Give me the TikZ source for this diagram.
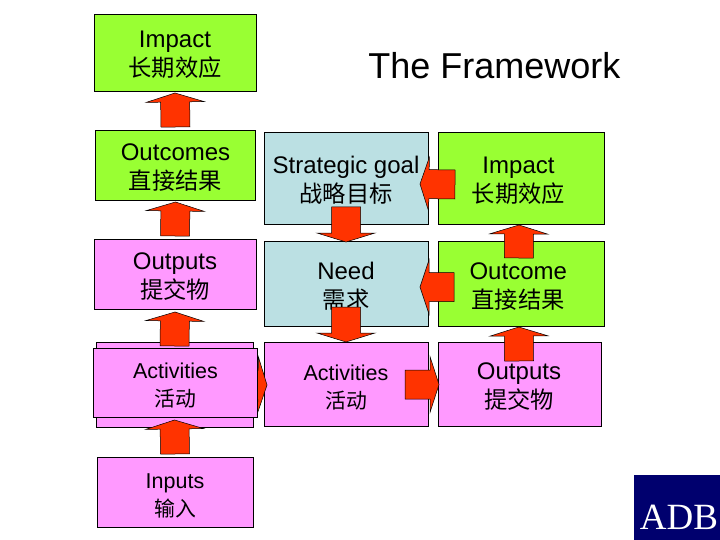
\documentclass[tikz,border=0pt]{standalone}
\usepackage{fontspec}
\setmainfont{Liberation Sans}
\newfontfamily\cjk[Scale=0.97]{Noto Sans CJK SC}
\newfontfamily\logofont{Liberation Serif}
\usetikzlibrary{calc}

\definecolor{goalgreen}{RGB}{153,255,51}
\definecolor{workpink}{RGB}{255,153,255}
\definecolor{needblue}{RGB}{187,224,227}
\definecolor{arrowred}{RGB}{255,51,0}
\definecolor{logoblue}{RGB}{0,0,110}

% two lines of a box, the strut moves them down a little
% the optional space pushes them to the left
\newcommand{\duo}[3][0pt]{\rule{0pt}{22pt}#2\hspace*{#1}\\{\cjk #3}\hspace*{#1}}

\tikzset{
    box/.style={draw=black, line width=0.8pt, inner sep=0pt, outer sep=0pt, align=center,
        font=\fontsize{24}{29}\selectfont},
    smallbox/.style={box, font=\fontsize{21.5}{28}\selectfont},
    bigarrow/.style={draw=black, line width=0.5pt, fill=arrowred, to path={
        ($(\tikztotarget)!9pt!(\tikztostart)$) coordinate (h)
        ($(\tikztostart)!14.5pt!90:(\tikztotarget)$)
        -- ($(h)!14.5pt!90:(\tikztotarget)$)
        -- ($(h)!#1 pt!90:(\tikztotarget)$)
        -- (\tikztotarget)
        -- ($(h)!#1 pt!-90:(\tikztotarget)$)
        -- ($(h)!14.5pt!-90:(\tikztotarget)$)
        -- ($(\tikztostart)!14.5pt!-90:(\tikztotarget)$)
        -- cycle}},
    bigarrow/.default=29
}

\begin{document}
\begin{tikzpicture}[x=1pt, y=-1pt]
    \useasboundingbox (0,0) rectangle (720,540);

    % -------------------------
    % Left column
    % -------------------------
    \node[box, fill=goalgreen, minimum width=162, minimum height=77] (impact) at (175,52.5)
        {\duo{Impact}{长期效应}};
    \node[box, fill=goalgreen, minimum width=160, minimum height=70] (outcomes) at (175.5,165)
        {\duo{Outcomes}{直接结果}};
    \node[box, fill=workpink, minimum width=162, minimum height=70] (outputs) at (175,274)
        {\duo{Outputs}{提交物}};
    \node[box, fill=workpink, minimum width=157, minimum height=85] (actback) at (174.5,384.5) {};
    \node[smallbox, fill=workpink, minimum width=156, minimum height=70] (inputs) at (175,492)
        {\duo{Inputs}{输入}};

    % -------------------------
    % Middle and right columns
    % -------------------------
    \node[box, fill=needblue, minimum width=164, minimum height=92] (goal) at (346,178)
        {\duo{Strategic goal}{战略目标}};
    \node[box, fill=goalgreen, minimum width=166, minimum height=92] (impactr) at (521.5,178)
        {\duo[6pt]{Impact}{长期效应}};
    \node[box, fill=needblue, minimum width=164, minimum height=85] (need) at (346,283.5)
        {\duo{Need}{需求}};
    \node[box, fill=goalgreen, minimum width=165.5, minimum height=85] (outcome) at (521.25,283.5)
        {\duo[6pt]{Outcome}{直接结果}};
    \node[smallbox, fill=workpink, minimum width=164, minimum height=84] (actmid) at (346,384)
        {\duo{Activities}{活动}};
    \node[box, fill=workpink, minimum width=163, minimum height=84] (outputsr) at (520,384)
        {\duo[2pt]{Outputs}{提交物}};

    % -------------------------
    % Arrows
    % -------------------------
    \draw[bigarrow] ($(outcomes.north)+(0,-3)$) to ($(impact.south)+(0,2)$);
    \draw[bigarrow] ($(outputs.north)+(0,-3)$) to ($(outcomes.south)+(0,2)$);
    \draw[bigarrow] ($(actback.north)+(0,4)$) to ($(outputs.south)+(0,3)$);
    \draw[bigarrow] ($(inputs.north)+(0,-3)$) to ($(actback.south)+(0,-7)$);

    % behind the front box, only the head shows
    \draw[bigarrow=28] ($(actback.east)+(-20,0)$) to ($(actmid.west)+(3,1)$);

    \draw[bigarrow=27] ($(impactr.west)+(16.5,6.5)$) to ($(goal.east)+(-8,6)$);
    \draw[bigarrow=27] ($(outcome.west)+(15.5,3.5)$) to ($(need.east)+(-8,3.5)$);
    \draw[bigarrow=28] ($(actmid.east)+(-23,0.5)$) to ($(outputsr.west)+(0.5,0.5)$);

    \draw[bigarrow] ($(goal.south)+(0,-17)$) to ($(need.north)+(0,1)$);
    \draw[bigarrow] ($(need.south)+(0,-19)$) to ($(actmid.north)+(0,0)$);

    \draw[bigarrow] ($(outcome.north)+(-2.5,17)$) to ($(impactr.south)+(-2.5,1)$);
    \draw[bigarrow] ($(outputsr.north)+(-1,19)$) to ($(outcome.south)+(-2.5,1)$);

    % front box goes over the arrow
    \node[smallbox, fill=workpink, minimum width=164, minimum height=69] (actfront) at (175.5,382.5)
        {\duo{Activities}{活动}};

    % -------------------------
    % Title and logo
    % -------------------------
    \node[font=\fontsize{36}{40}\selectfont] (title) at (494.5,66) {The Framework};

    \fill[logoblue] (633.5,475) rectangle (720,540);
    \node[anchor=base, text=white, font=\logofont\fontsize{37}{40}\selectfont, inner sep=0pt] (adb) at (679,529) {ADB};

\end{tikzpicture}
\end{document}
